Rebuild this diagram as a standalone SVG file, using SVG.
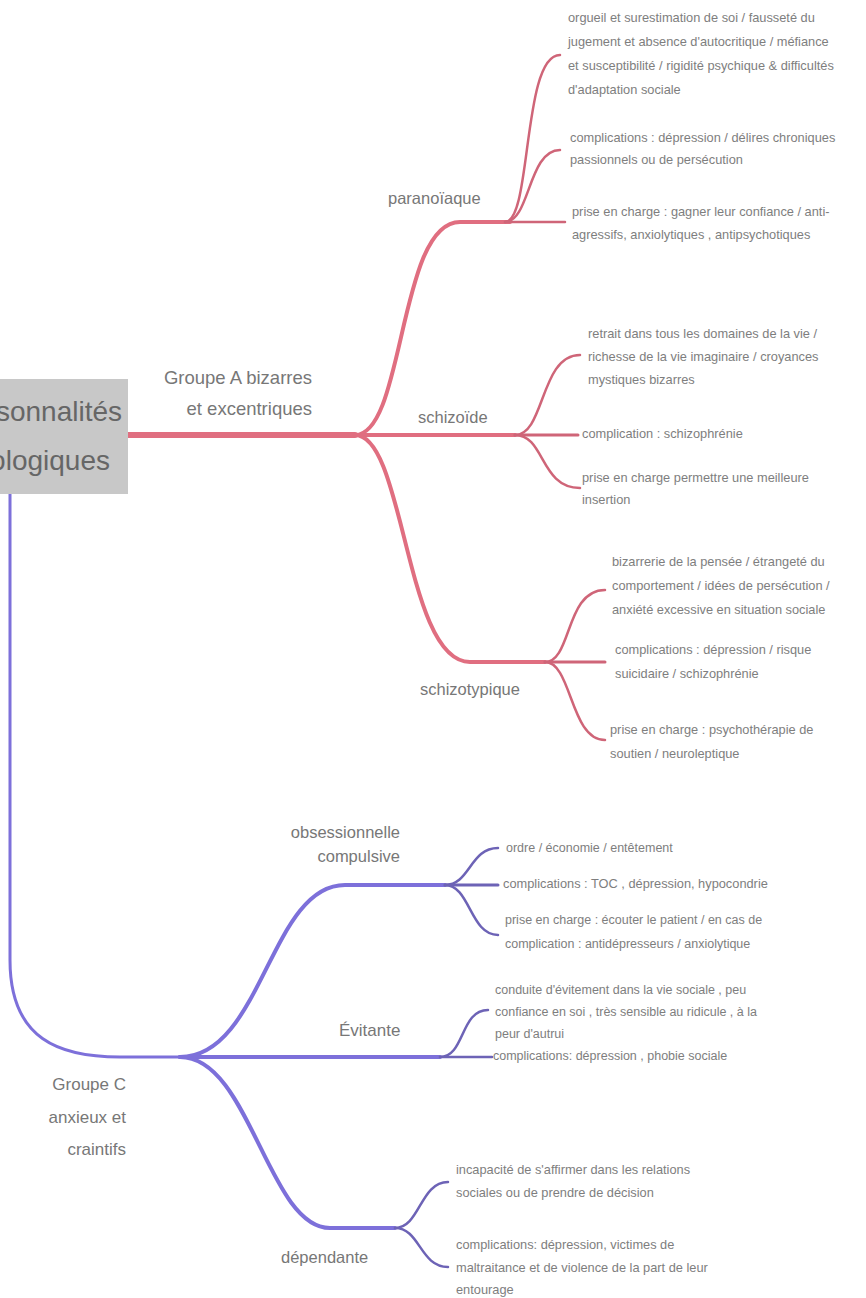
<svg xmlns="http://www.w3.org/2000/svg" width="866" height="1298" viewBox="0 0 866 1298">
<style>
.leaf{font-family:"Liberation Sans",Arial,sans-serif;font-size:12.8px;fill:#7e7e7e}
.lc{font-size:12.5px}
.lbl{font-family:"Liberation Sans",Arial,sans-serif;font-size:16.5px;fill:#777}
.grp{font-family:"Liberation Sans",Arial,sans-serif;font-size:18.5px;fill:#777}
.gc{font-family:"Liberation Sans",Arial,sans-serif;font-size:17px;fill:#777}
.root{font-family:"Liberation Sans",Arial,sans-serif;font-size:28px;fill:#666}
.ra{fill:none;stroke:#e06e80;stroke-linecap:round}
.rb{fill:none;stroke:#cf6578;stroke-linecap:round}
.ba{fill:none;stroke:#7d70da;stroke-linecap:round}
.bb{fill:none;stroke:#6d63b6;stroke-linecap:round}
</style>
<rect width="866" height="1298" fill="#ffffff"/>
<g id="connectors">
<path class="ra" stroke-width="6" d="M128,435 L355,435"/>
<path class="ra" stroke-width="4" d="M355,435 C405,435 398,222 460,222 L510,222"/>
<path class="ra" stroke-width="4" d="M355,435 L515,435"/>
<path class="ra" stroke-width="4" d="M355,435 C405,435 405,662 470,662 L545,662"/>
<path class="rb" stroke-width="2.5" d="M505,222 C532,222 522,55 560,55"/>
<path class="rb" stroke-width="2.5" d="M505,222 C530,222 528,150 560,150"/>
<path class="rb" stroke-width="2.5" d="M505,222 L565,222"/>
<path class="rb" stroke-width="2.5" d="M515,435 C545,435 540,355 580,355"/>
<path class="rb" stroke-width="3" d="M515,435 L578,435"/>
<path class="rb" stroke-width="2.5" d="M515,435 C545,435 540,488 580,488"/>
<path class="rb" stroke-width="2.5" d="M545,662 C572,662 565,590 605,590"/>
<path class="rb" stroke-width="3" d="M545,662 L605,662"/>
<path class="rb" stroke-width="2.5" d="M545,662 C572,662 570,740 605,740"/>
<path class="ba" stroke-width="3" d="M10,492 L10,960 C10,1040 60,1057 120,1057 L180,1057"/>
<path class="ba" stroke-width="4" d="M180,1057 C262,1057 270,885 345,885 L445,885"/>
<path class="ba" stroke-width="4" d="M180,1057 L440,1057"/>
<path class="ba" stroke-width="4" d="M180,1057 C250,1057 268,1228 330,1228 L395,1228"/>
<path class="bb" stroke-width="2.5" d="M445,885 C470,885 470,848 498,848"/>
<path class="bb" stroke-width="3" d="M445,885 L498,885"/>
<path class="bb" stroke-width="2.5" d="M445,885 C470,885 470,935 498,935"/>
<path class="bb" stroke-width="2.5" d="M440,1057 C465,1057 460,1010 488,1010"/>
<path class="bb" stroke-width="2.5" d="M440,1057 L492,1057"/>
<path class="bb" stroke-width="2.5" d="M395,1228 C420,1228 420,1182 448,1182"/>
<path class="bb" stroke-width="2.5" d="M395,1228 C420,1228 420,1267 448,1267"/>
</g>
<g id="root">
<rect x="-80" y="379" width="208" height="115" fill="#c8c8c8"/>
<text class="root" x="122" y="421" text-anchor="end">Personnalités</text>
<text class="root" x="110" y="470" text-anchor="end">pathologiques</text>
</g>
<g id="groupeA">
<text class="grp" x="312" y="384" text-anchor="end">Groupe A bizarres</text>
<text class="grp" x="312" y="415" text-anchor="end">et excentriques</text>
</g>
<g id="paranoiaque">
<text class="lbl" x="388" y="204">paranoïaque</text>
</g>
<g id="para1">
<text class="leaf" x="568" y="22">orgueil et surestimation de soi / fausseté du</text>
<text class="leaf" x="568" y="46">jugement et absence d'autocritique / méfiance</text>
<text class="leaf" x="568" y="70">et susceptibilité / rigidité psychique &amp; difficultés</text>
<text class="leaf" x="568" y="94">d'adaptation sociale</text>
</g>
<g id="para2">
<text class="leaf" x="570" y="142">complications : dépression / délires chroniques</text>
<text class="leaf" x="570" y="164">passionnels ou de persécution</text>
</g>
<g id="para3">
<text class="leaf" x="572" y="216">prise en charge : gagner leur confiance / anti-</text>
<text class="leaf" x="572" y="239">agressifs, anxiolytiques , antipsychotiques</text>
</g>
<g id="schizoide">
<text class="lbl" x="418" y="423">schizoïde</text>
</g>
<g id="schizo1">
<text class="leaf" x="588" y="338">retrait dans tous les domaines de la vie /</text>
<text class="leaf" x="588" y="361">richesse de la vie imaginaire / croyances</text>
<text class="leaf" x="588" y="384">mystiques bizarres</text>
</g>
<g id="schizo2">
<text class="leaf" x="582" y="438">complication : schizophrénie</text>
</g>
<g id="schizo3">
<text class="leaf" x="582" y="482">prise en charge permettre une meilleure</text>
<text class="leaf" x="582" y="504">insertion</text>
</g>
<g id="schizotypique">
<text class="lbl" x="420" y="695">schizotypique</text>
</g>
<g id="styp1">
<text class="leaf" x="612" y="566">bizarrerie de la pensée / étrangeté du</text>
<text class="leaf" x="612" y="590">comportement / idées de persécution /</text>
<text class="leaf" x="612" y="614">anxiété excessive en situation sociale</text>
</g>
<g id="styp2">
<text class="leaf" x="615" y="654">complications : dépression / risque</text>
<text class="leaf" x="615" y="678">suicidaire / schizophrénie</text>
</g>
<g id="styp3">
<text class="leaf" x="610" y="734">prise en charge : psychothérapie de</text>
<text class="leaf" x="610" y="758">soutien / neuroleptique</text>
</g>
<g id="groupeC">
<text class="gc" x="126" y="1090" text-anchor="end">Groupe C</text>
<text class="gc" x="126" y="1123" text-anchor="end">anxieux et</text>
<text class="gc" x="126" y="1155" text-anchor="end">craintifs</text>
</g>
<g id="obsessionnelle">
<text class="lbl" x="400" y="838" text-anchor="end" font-size="15">obsessionnelle</text>
<text class="lbl" x="400" y="862" text-anchor="end" font-size="15">compulsive</text>
</g>
<g id="obs1">
<text class="leaf lc" x="506" y="852">ordre / économie / entêtement</text>
</g>
<g id="obs2">
<text class="leaf" x="503" y="888" font-size="10.2">complications : TOC , dépression, hypocondrie</text>
</g>
<g id="obs3">
<text class="leaf lc" x="505" y="924">prise en charge : écouter le patient / en cas de</text>
<text class="leaf lc" x="505" y="948">complication : antidépresseurs / anxiolytique</text>
</g>
<g id="evitante">
<text class="gc" x="339" y="1036">Évitante</text>
</g>
<g id="evit1">
<text class="leaf lc" x="495" y="994">conduite d'évitement dans la vie sociale , peu</text>
<text class="leaf lc" x="495" y="1016">confiance en soi , très sensible au ridicule , à la</text>
<text class="leaf lc" x="495" y="1038">peur d'autrui</text>
</g>
<g id="evit2">
<text class="leaf lc" x="493" y="1060">complications: dépression , phobie sociale</text>
</g>
<g id="dependante">
<text class="lbl" x="281" y="1263" font-size="15">dépendante</text>
</g>
<g id="dep1">
<text class="leaf" x="456" y="1174">incapacité de s'affirmer dans les relations</text>
<text class="leaf" x="456" y="1197">sociales ou de prendre de décision</text>
</g>
<g id="dep2">
<text class="leaf" x="456" y="1249">complications: dépression, victimes de</text>
<text class="leaf" x="456" y="1272">maltraitance et de violence de la part de leur</text>
<text class="leaf" x="456" y="1294">entourage</text>
</g>
</svg>
